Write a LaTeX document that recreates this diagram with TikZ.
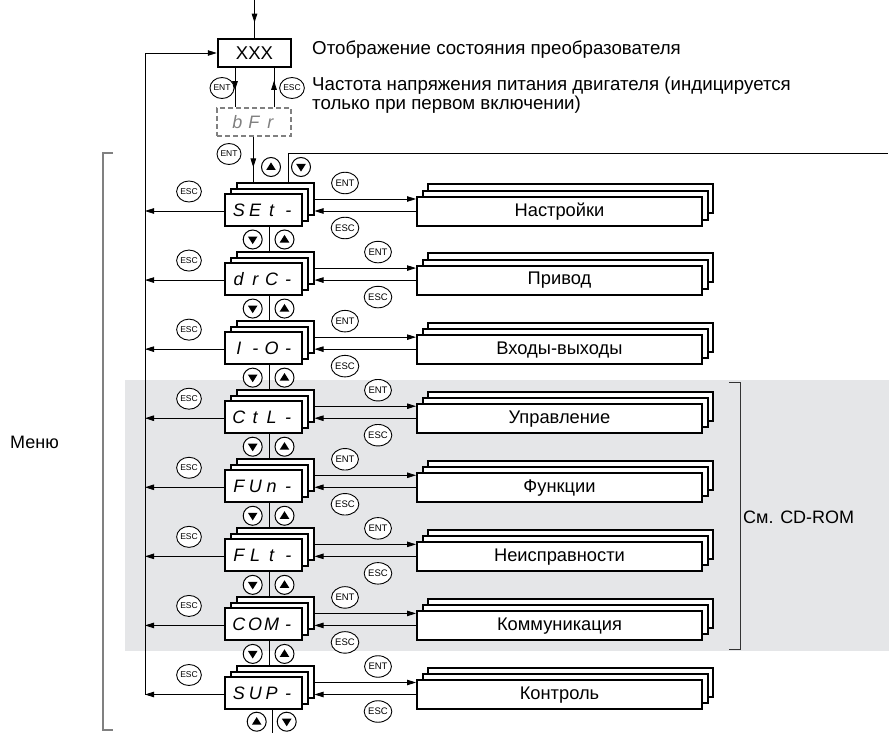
\documentclass[tikz,border=0pt]{standalone}
\usepackage{fontspec}
\setmainfont{Liberation Sans}
\usetikzlibrary{arrows.meta,shapes.geometric,decorations.markings}
\definecolor{bgshade}{RGB}{229,230,232}
\definecolor{dgray}{RGB}{128,128,128}
\def\segs#1#2#3#4{\makebox[16.5pt]{#1}\makebox[16.5pt]{#2}\makebox[16.5pt]{#3}\makebox[16.5pt]{#4}}
\begin{document}
\begin{tikzpicture}[x=1pt,y=-1pt,
 every node/.style={inner sep=0pt},
 stk/.style={draw, line width=2pt, fill=white, minimum width=77pt, minimum height=32pt},
 rbx/.style={draw, line width=2pt, fill=white, minimum width=285pt, minimum height=29pt, font=\fontsize{18.3}{20}\selectfont},
 seg/.style={font=\fontsize{18}{18}\selectfont\itshape},
 btn/.style={draw, ellipse, line width=0.9pt, fill=white, minimum width=21pt, minimum height=21pt, font=\fontsize{8.5}{8.5}\selectfont},
 wbtn/.style={btn, minimum width=26pt, minimum height=21.5pt, font=\fontsize{9.5}{9.5}\selectfont},
 tbtn/.style={draw, circle, line width=1pt, fill=white, minimum size=19pt},
 arr/.style={-{Triangle[length=9pt,width=5.5pt]}, line width=0.8pt},
 ln/.style={line width=0.8pt},
 midarr/.style={ln, postaction={decorate}, decoration={markings, mark=at position #1 with {\arrow{Triangle[length=9pt,width=5.5pt]}}}},
]
\useasboundingbox (0,0) rectangle (889,733);
\fill[bgshade] (125,380) rectangle (889,651);

% top part
\coordinate (top) at (254.5,0);
\node[draw, line width=2.5pt, minimum width=73pt, minimum height=28pt, font=\fontsize{18.5}{18}\selectfont] (xxx) at (254.5,53) {XXX};
\draw[midarr=0.6] (top) -- (xxx.north);
\node[anchor=west, font=\fontsize{18.7}{17}\selectfont] (t1) at (312,50) {Отображение состояния преобразователя};
\node[anchor=west, align=left, font=\fontsize{18.7}{16.5}\selectfont] (t2) at (312,95) {Частота напряжения питания двигателя (индицируется\\только при первом включении)};
\node[draw=dgray, dash pattern=on 5pt off 3pt, line width=1.1pt, minimum width=74pt, minimum height=28pt, seg, text=dgray] (bfr) at (254,122) {\makebox[16.5pt]{b}\makebox[16.5pt]{F}\makebox[16.5pt]{r}};
\draw[midarr=0.56] (xxx.south -| 235,0) -- (bfr.north -| 235,0);
\draw[midarr=0.68] (bfr.north -| 274,0) -- (xxx.south -| 274,0);
\node[btn] (ent0) at (222,88) {ENT};
\node[btn] (esc0) at (292,88) {ESC};
\node[btn] (ent1) at (229,154) {ENT};

% left return line
\coordinate (l0) at (145,53);
\coordinate (l7) at (145,694.5);
\draw[ln] (l7) -- (l0);
\draw[arr] (l0) -- (xxx.west);

% levels
\foreach \i/\lab/\sg in {0/Настройки/SEt-,1/Привод/drC-,2/Входы-выходы/I-O-,3/Управление/CtL-,4/Функции/FUn-,5/Неисправности/FLt-,6/Коммуникация/COM-,7/Контроль/SUP-}{
 \pgfmathsetmacro\L{210+69.07*\i}
 \pgfmathsetmacro\cx{345+33*mod(\i,2)}
 \pgfmathsetmacro\ya{\L-11}
 \pgfmathsetmacro\yb{\L+1}
 \node[stk] (sa\i) at (275,\L-11) {};
 \node[stk] (sb\i) at (269.25,\L-5.5) {};
 \node[stk, seg] (sc\i) at (263.5,\L) {\expandafter\segs\sg};
 \node[rbx] (ra\i) at (570.5,\L-11.1) {};
 \node[rbx] (rb\i) at (565,\L-4.8) {};
 \node[rbx] (rc\i) at (559.5,\L+1.5) {\lab};
 \coordinate (le\i) at (145,\yb);
 \draw[arr] (sa\i.east |- 0,\ya) -- (rc\i.west |- 0,\ya);
 \draw[arr] (rc\i.west |- 0,\yb) -- (sa\i.east |- 0,\yb);
 \draw[arr] (sc\i.west |- 0,\yb) -- (le\i);
 \node[btn] (el\i) at (189,\L-18.5) {ESC};
 \node[wbtn] (en\i) at (\cx,\L-27) {ENT};
 \node[wbtn] (er\i) at (\cx,\L+18) {ESC};
}

% entry into first menu and loop line
\draw[midarr=0.68] (bfr.south -| 253.3,0) -- (sa0.north -| 253.3,0);
\coordinate (rt) at (888,153);
\draw[ln] (sa0.north -| 288,0) |- (rt);
\node[tbtn] (upt) at (271,167) {};
\node[tbtn] (dnt) at (301,167) {};
\fill (upt.center) +(-4.8,3) -- +(4.8,3) -- +(0,-4.6) -- cycle;
\fill (dnt.center) +(-4.8,-3) -- +(4.8,-3) -- +(0,4.6) -- cycle;

% between levels
\foreach \i [evaluate=\i as \j using int(\i+1)] in {0,...,6}{
 \pgfmathsetmacro\L{210+69.07*\i}
 \draw[ln] (sc\i.south -| 269,0) -- (sa\j.north -| 269,0);
 \node[tbtn] (dn\i) at (252.7,\L+29.5) {};
 \node[tbtn] (up\i) at (284.5,\L+29.5) {};
 \fill (dn\i.center) +(-4.8,-3) -- +(4.8,-3) -- +(0,4.6) -- cycle;
 \fill (up\i.center) +(-4.8,3) -- +(4.8,3) -- +(0,-4.6) -- cycle;
}

% bottom
\coordinate (bt) at (272.7,733);
\draw[ln] (sc7.south -| 272.7,0) -- (bt);
\node[tbtn] (upb) at (256.7,721.7) {};
\node[tbtn] (dnb) at (286.7,721.7) {};
\fill (upb.center) +(-4.8,3) -- +(4.8,3) -- +(0,-4.6) -- cycle;
\fill (dnb.center) +(-4.8,-3) -- +(4.8,-3) -- +(0,4.6) -- cycle;

% brackets
\draw[dgray, line width=1.2pt] (113,153) -- (103,153) -- (103,730) -- (113,730);
\node[anchor=east, font=\fontsize{18}{18}\selectfont] (menu) at (59,442) {Меню};
\draw[black!80, line width=1pt] (729,382.7) -- (740.5,382.7) -- (740.5,649.3) -- (729,649.3);
\node[anchor=west, font=\fontsize{18}{18}\selectfont] (cd) at (743,517) {См. CD-ROM};
\end{tikzpicture}
\end{document}
